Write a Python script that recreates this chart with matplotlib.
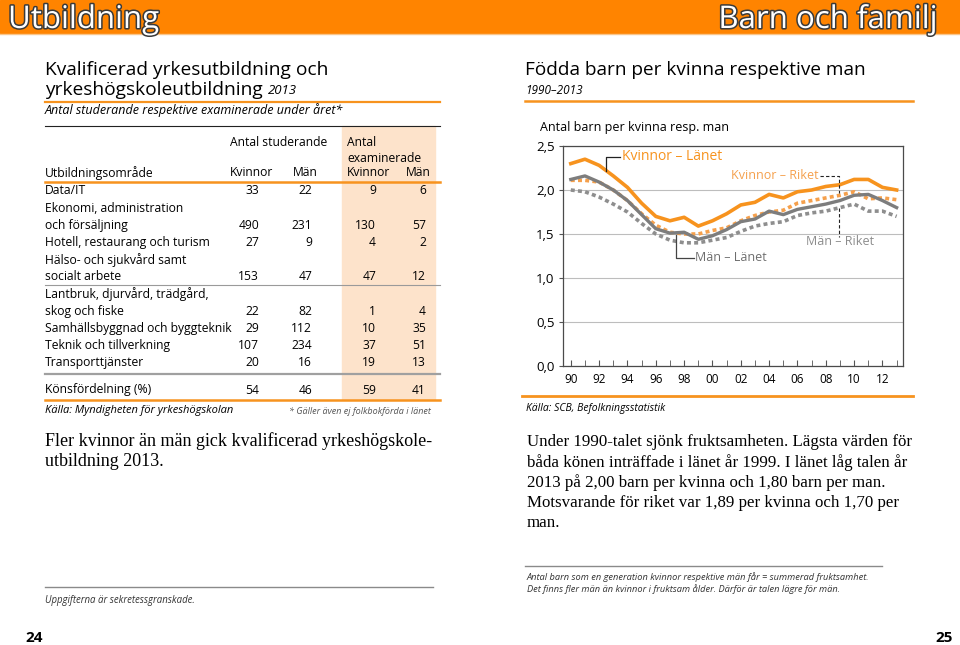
import matplotlib.pyplot as plt
import matplotlib.patheffects as pe
from matplotlib.lines import Line2D
from matplotlib.patches import Rectangle

# Data - table (Kvalificerad yrkesutbildning 2013)
omraden = ["Data/IT",
           "Ekonomi, administration\noch försäljning",
           "Hotell, restaurang och turism",
           "Hälso- och sjukvård samt\nsocialt arbete",
           "Lantbruk, djurvård, trädgård,\nskog och fiske",
           "Samhällsbyggnad och byggteknik",
           "Teknik och tillverkning",
           "Transporttjänster"]
stud_kvinnor = [33, 490, 27, 153, 22, 29, 107, 20]
stud_man = [22, 231, 9, 47, 82, 112, 234, 16]
exam_kvinnor = [9, 130, 4, 47, 1, 10, 37, 19]
exam_man = [6, 57, 2, 12, 4, 35, 51, 13]
konsfordelning = [54, 46, 59, 41]

# Data - chart (födda barn per kvinna / man)
years = list(range(1990, 2014))
kvinnor_lanet = [2.30, 2.35, 2.28, 2.16, 2.03, 1.85, 1.70, 1.65, 1.69, 1.59, 1.65, 1.73,
                 1.83, 1.86, 1.95, 1.91, 1.98, 2.00, 2.04, 2.06, 2.12, 2.12, 2.03, 2.00]
kvinnor_riket = [2.11, 2.11, 2.09, 2.00, 1.88, 1.73, 1.60, 1.52, 1.50, 1.50, 1.54, 1.57,
                 1.65, 1.71, 1.75, 1.77, 1.85, 1.88, 1.91, 1.94, 1.98, 1.90, 1.91, 1.89]
man_lanet = [2.12, 2.16, 2.09, 2.00, 1.88, 1.72, 1.56, 1.51, 1.52, 1.44, 1.48, 1.55,
             1.64, 1.67, 1.76, 1.72, 1.78, 1.81, 1.84, 1.88, 1.94, 1.95, 1.88, 1.80]
man_riket = [2.00, 1.98, 1.92, 1.84, 1.75, 1.62, 1.50, 1.43, 1.40, 1.40, 1.43, 1.46,
             1.53, 1.59, 1.62, 1.64, 1.71, 1.74, 1.76, 1.80, 1.84, 1.76, 1.76, 1.70]
xtick_years = years[::2]
xtick_labels = [str(y)[2:] for y in xtick_years]
ytick_values = [0.0, 0.5, 1.0, 1.5, 2.0, 2.5]

ORANGE = '#F7931E'
ORANGE_L = '#F5A04C'
GRAY = '#7D7D7D'
GRAY_D = '#8E8E8E'
PEACH = '#FDE3CB'
SANS = 'Open Sans'
SERIF = 'Liberation Serif'

W, H = 960, 645
fig = plt.figure(figsize=(9.6, 6.45), dpi=100)


# helpers working in page pixels (origin top-left)
def txt(x, y, s, **kw):
    kw.setdefault('family', SANS)
    kw.setdefault('va', 'center')
    return fig.text(x / W, 1 - y / H, s, **kw)


def hline(x0, x1, y, color='black', lw=1.0):
    fig.add_artist(Line2D([x0 / W, x1 / W], [1 - y / H, 1 - y / H],
                          transform=fig.transFigure, color=color, lw=lw))


# Header band
fig.add_artist(Rectangle((0, 1 - 33 / H), 1, 33 / H, transform=fig.transFigure,
                         color='#FF8400', zorder=0))
hline(0, W, 34, color='#F9C58A', lw=1)
outline = [pe.withStroke(linewidth=2.2, foreground='#3A3A3A')]
txt(8, 28, 'Utbildning', fontsize=22.5, color='white', va='baseline', path_effects=outline)
txt(937, 28, 'Barn och familj', fontsize=22.5, color='white', ha='right', va='baseline',
    path_effects=outline)

# ---------------- Left page: table ----------------
fig.add_artist(Rectangle((342 / W, 1 - 399 / H), 93 / W, 273 / H,
                         transform=fig.transFigure, color=PEACH, zorder=0))
txt(45, 70, 'Kvalificerad yrkesutbildning och', fontsize=13.8)
t = txt(45, 90, 'yrkeshögskoleutbildning', fontsize=13.8)
bb = t.get_window_extent(renderer=fig.canvas.get_renderer())
txt(bb.x1 + 5, 91, '2013', fontsize=9.5, style='italic')
hline(45, 440, 101.5, color=ORANGE, lw=1.6)
txt(45, 110, 'Antal studerande respektive examinerade under året*', fontsize=9, style='italic')
hline(45, 440, 126, color='#222222', lw=0.8)

fs = 8.7
txt(230, 143, 'Antal studerande', fontsize=fs)
txt(347, 143, 'Antal', fontsize=fs)
txt(347, 158, 'examinerade', fontsize=fs)
txt(45, 173, 'Utbildningsområde', fontsize=fs)
txt(230, 173, 'Kvinnor', fontsize=fs)
txt(318, 173, 'Män', fontsize=fs, ha='right')
txt(347, 173, 'Kvinnor', fontsize=fs)
txt(431, 173, 'Män', fontsize=fs, ha='right')
hline(45, 440, 182, color=ORANGE, lw=1.8)

col_x = [259, 312, 376, 426]
y = 191
step = 17.2
for i, label in enumerate(omraden):
    lines = label.split('\n')
    for j, ln in enumerate(lines):
        txt(45, y + j * step, ln, fontsize=fs)
    yl = y + (len(lines) - 1) * step
    for cx, v in zip(col_x, [stud_kvinnor[i], stud_man[i], exam_kvinnor[i], exam_man[i]]):
        txt(cx, yl, str(v), fontsize=fs, ha='right')
    y = yl + step
    if i == 3:
        hline(45, 440, 284.5, color='#9A9A9A', lw=0.8)
hline(45, 440, 373.5, color='#A0A0A0', lw=1.6)
txt(45, 390, 'Könsfördelning (%)', fontsize=fs)
for cx, v in zip(col_x, konsfordelning):
    txt(cx, 390, str(v), fontsize=fs, ha='right')
hline(45, 440, 400, color=ORANGE, lw=1.8)
txt(45, 411, 'Källa: Myndigheten för yrkeshögskolan', fontsize=8, style='italic')
txt(431, 411, '* Gäller även ej folkbokförda i länet', fontsize=6.5, style='italic',
    ha='right', color='#555555')

txt(45, 441, 'Fler kvinnor än män gick kvalificerad yrkeshögskole-', fontsize=13, family=SERIF)
txt(45, 462, 'utbildning 2013.', fontsize=13, family=SERIF)

hline(45, 433, 587, color='#8A8A8A', lw=1)
txt(45, 600, 'Uppgifterna är sekretessgranskade.', fontsize=6.9, style='italic', color='#333333')
txt(25, 638, '24', fontsize=11, weight='bold')

# ---------------- Right page: chart ----------------
txt(525, 70, 'Födda barn per kvinna respektive man', fontsize=13.7)
txt(525, 91, '1990–2013', fontsize=8.5, style='italic')
hline(525, 913, 101, color=ORANGE, lw=1.8)
txt(540, 128, 'Antal barn per kvinna resp. man', fontsize=9)

ax = fig.add_axes([563 / W, 1 - 366 / H, 340 / W, 220 / H])
ax.plot(years, kvinnor_riket, color=ORANGE_L, lw=2.6, dashes=(1.1, 0.9), zorder=3)
ax.plot(years, man_riket, color=GRAY_D, lw=2.6, dashes=(1.1, 0.9), zorder=3)
ax.plot(years, man_lanet, color=GRAY, lw=2.4, zorder=4)
ax.plot(years, kvinnor_lanet, color=ORANGE, lw=2.6, zorder=5)

ax.set_xlim(1989.45, 2013.45)
ax.set_ylim(0, 2.5)
ax.set_yticks(ytick_values)
ax.set_yticklabels([f'{v:.1f}'.replace('.', ',') for v in ytick_values],
                   family=SANS, fontsize=9.5)
ax.set_xticks(years, minor=True)
ax.set_xticks(xtick_years)
ax.set_xticklabels(xtick_labels, family=SANS, fontsize=8.5)
ax.tick_params(axis='x', which='both', direction='in', length=4, color='#555555', pad=5)
ax.tick_params(axis='y', direction='out', length=3, color='#555555', pad=3)
ax.grid(axis='y', color='#BDBDBD', lw=0.8)
ax.set_axisbelow(True)
for s in ax.spines.values():
    s.set_color('#4A4A4A')
    s.set_linewidth(0.9)

# series labels with leader lines
ax.plot([1992.5, 1992.5, 1993.5], [2.22, 2.38, 2.38], color='#222222', lw=0.9, zorder=6)
ax.text(1993.6, 2.38, 'Kvinnor – Länet', color=ORANGE, fontsize=10, family=SANS,
        va='center')
ax.plot([2007.6, 2008.9, 2008.9], [2.16, 2.16, 1.97], color='#222222', lw=0.8,
        ls=(0, (3, 2)), zorder=6)
ax.text(2007.5, 2.16, 'Kvinnor – Riket', color=ORANGE_L, fontsize=9, family=SANS,
        va='center', ha='right')
ax.plot([2008.9, 2008.9], [1.80, 1.47], color='#222222', lw=0.8, ls=(0, (3, 2)), zorder=6)
ax.text(2009.0, 1.41, 'Män – Riket', color='#8C8C8C', fontsize=9, family=SANS,
        va='center', ha='center')
ax.plot([1997.4, 1997.4, 1998.7], [1.49, 1.23, 1.23], color='#444444', lw=0.9, zorder=6)
ax.text(1998.8, 1.23, 'Män – Länet', color='#6E6E6E', fontsize=9, family=SANS, va='center')

hline(522, 913, 396, color=ORANGE, lw=2)
txt(526, 408, 'Källa: SCB, Befolkningsstatistik', fontsize=7.5, style='italic')

para = ['Under 1990-talet sjönk fruktsamheten. Lägsta värden för',
        'båda könen inträffade i länet år 1999. I länet låg talen år',
        '2013 på 2,00 barn per kvinna och 1,80 barn per man.',
        'Motsvarande för riket var 1,89 per kvinna och 1,70 per',
        'man.']
for k, ln in enumerate(para):
    txt(527, 442 + k * 20.2, ln, fontsize=12.2, family=SERIF)

hline(525, 882, 566, color='#8A8A8A', lw=1)
txt(527, 577, 'Antal barn som en generation kvinnor respektive män får = summerad fruktsamhet.',
    fontsize=6.7, style='italic', color='#333333')
txt(527, 589, 'Det finns fler män än kvinnor i fruktsam ålder. Därför är talen lägre för män.',
    fontsize=6.7, style='italic', color='#333333')
txt(935, 638, '25', fontsize=11, weight='bold')

fig.savefig('out.png', dpi=100)
